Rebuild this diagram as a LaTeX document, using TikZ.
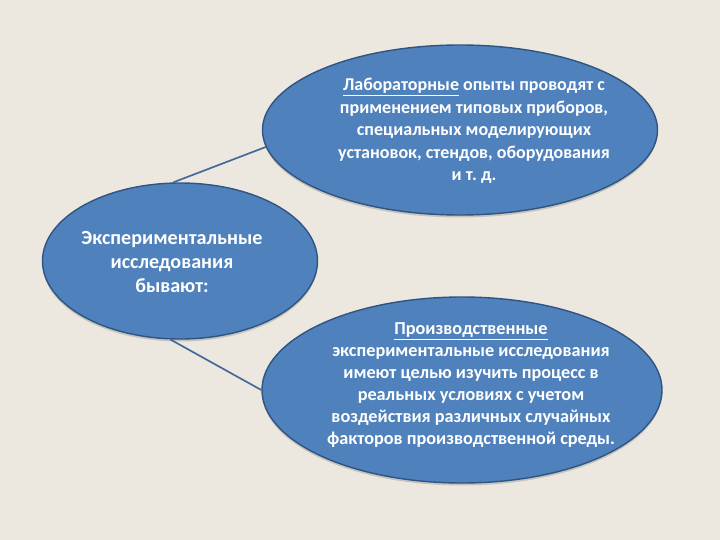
\documentclass[tikz,border=0pt]{standalone}
\usepackage{fontspec}
\setmainfont{Carlito}
\frenchspacing
\usetikzlibrary{shapes.geometric,shadows}
\definecolor{bgc}{HTML}{ECE8DF}
\definecolor{fillc}{HTML}{4F81BD}
\definecolor{edgec}{HTML}{2F5482}
\definecolor{linec}{HTML}{46689A}
\tikzset{
  oval/.style={ellipse, draw=edgec, line width=1.4bp, fill=fillc, inner sep=0pt,
    text=white, font=\bfseries, align=center,
    drop shadow={opacity=0.35, shadow xshift=0bp, shadow yshift=-2.5bp}},
  conn/.style={draw=linec, line width=1.7bp}
}
\begin{document}
\begin{tikzpicture}[x=1bp,y=-1bp]
\fill[bgc] (0,0) rectangle (720,540);
\useasboundingbox (0,0) rectangle (720,540);
\node[oval, minimum width=395bp, minimum height=170bp] (T) at (460,130) {};
\node[oval, minimum width=400bp, minimum height=186bp] (B) at (462,390) {};
\node[oval, minimum width=275bp, minimum height=156bp] (L) at (180,261) {};
\node[text=white, font=\bfseries\fontsize{18.1}{22.7}\selectfont, align=center] (Tt) at (474,131)
 {\underline{Лабораторные} опыты проводят с\\применением типовых приборов,\\специальных моделирующих\\установок, стендов, оборудования\\и т. д.};
\node[text=white, font=\bfseries\fontsize{18.3}{22}\selectfont, align=center] (Bt) at (471,385)
 {\underline{Производственные}\\экспериментальные исследования\\имеют целью изучить процесс в\\реальных условиях с учетом\\воздействия различных случайных\\факторов производственной среды.};
\node[text=white, font=\bfseries\fontsize{20.2}{24.5}\selectfont, align=center] (Lt) at (172,262)
 {Экспериментальные\\исследования\\бывают:};
\draw[conn] (L.95) -- (T.185);
\draw[conn] (L.263) -- (B.180);
\end{tikzpicture}
\end{document}
